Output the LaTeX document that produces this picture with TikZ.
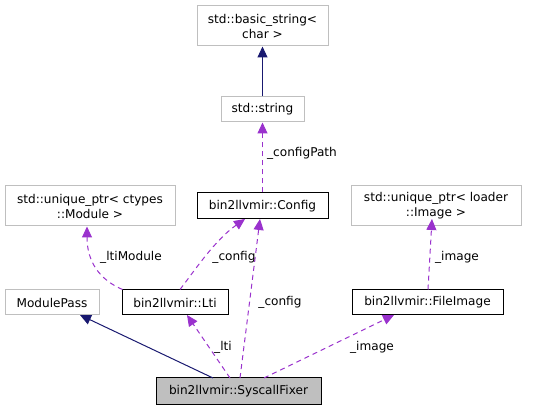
\documentclass[tikz,border=0pt]{standalone}
\usepackage{fontspec}
\setmainfont{DejaVu Sans}
\usetikzlibrary{arrows.meta}
\definecolor{edgegray}{HTML}{BFBFBF}
\definecolor{purp}{HTML}{9A32CD}
\definecolor{navy}{HTML}{191970}
\definecolor{fillgray}{HTML}{BFBFBF}
\tikzset{
  cls/.style={draw=edgegray, line width=1pt, fill=white, inner sep=0pt, align=center, font=\fontsize{12.1}{15}\selectfont},
  clsb/.style={cls, draw=black},
  clsc/.style={clsb, fill=fillgray},
  inh/.style={draw=navy, line width=1pt, -{Triangle[length=11pt,width=10pt]}},
  use/.style={draw=purp, line width=1pt, dash pattern=on 5pt off 4pt, -{Triangle[length=11pt,width=10pt]}},
  lbl/.style={font=\fontsize{12.1}{15}\selectfont, inner sep=0pt, anchor=center}
}
\begin{document}
\begin{tikzpicture}[x=1pt,y=-1pt]
\useasboundingbox (0,0) rectangle (549,411);
\node[cls, minimum width=131pt, minimum height=40pt] (bs) at (262.5,26) {std::basic\_string<\\char >};
\node[cls, minimum width=83pt, minimum height=25pt] (str) at (262.5,109.5) {std::string};
\node[clsb, minimum width=131pt, minimum height=26pt] (cfg) at (262.5,206) {bin2llvmir::Config};
\node[cls, minimum width=170pt, minimum height=40pt] (ct) at (90,206) {std::unique\_ptr< ctypes\\::Module >};
\node[cls, minimum width=170pt, minimum height=40pt] (ld) at (436,206) {std::unique\_ptr< loader\\::Image >};
\node[cls, minimum width=94pt, minimum height=25pt] (mp) at (52,302.5) {ModulePass};
\node[clsb, minimum width=106pt, minimum height=25pt] (lti) at (175,302.5) {bin2llvmir::Lti};
\node[clsb, minimum width=151pt, minimum height=25pt] (fi) at (427.5,302.5) {bin2llvmir::FileImage};
\node[clsc, minimum width=165pt, minimum height=27pt] (sf) at (238.5,391.5) {bin2llvmir::SyscallFixer};

\coordinate (sfa) at (213,378);
\coordinate (sfb) at (230,378);
\coordinate (sfc) at (240,378);
\coordinate (sfd) at (264,378);

\draw[inh] (str.north) -- (bs.south);
\draw[use] (cfg.north) -- (str.south);
\draw[use] (lti.north west) ++(1,0) .. controls (100,280) and (87,262) .. (ct.south -| 87,0);
\draw[use] (lti.north) ++(5,0) .. controls (195,270) and (215,240) .. (245,219);
\draw[use] (fi.north) ++(0.5,0) -- (432,219);
\draw[inh] (sfa) -- (80,315);
\draw[use] (sfb) -- (187,315);
\draw[use] (sfc) -- (260,219);
\draw[use] (sfd) -- (394,315);

\node[lbl] (l1) at (302,153) {\_configPath};
\node[lbl] (l2) at (131,257) {\_ltiModule};
\node[lbl] (l3) at (234,257) {\_config};
\node[lbl] (l4) at (457,257) {\_image};
\node[lbl] (l5) at (280,302) {\_config};
\node[lbl] (l6) at (223,347) {\_lti};
\node[lbl] (l7) at (372,347) {\_image};
\end{tikzpicture}
\end{document}
